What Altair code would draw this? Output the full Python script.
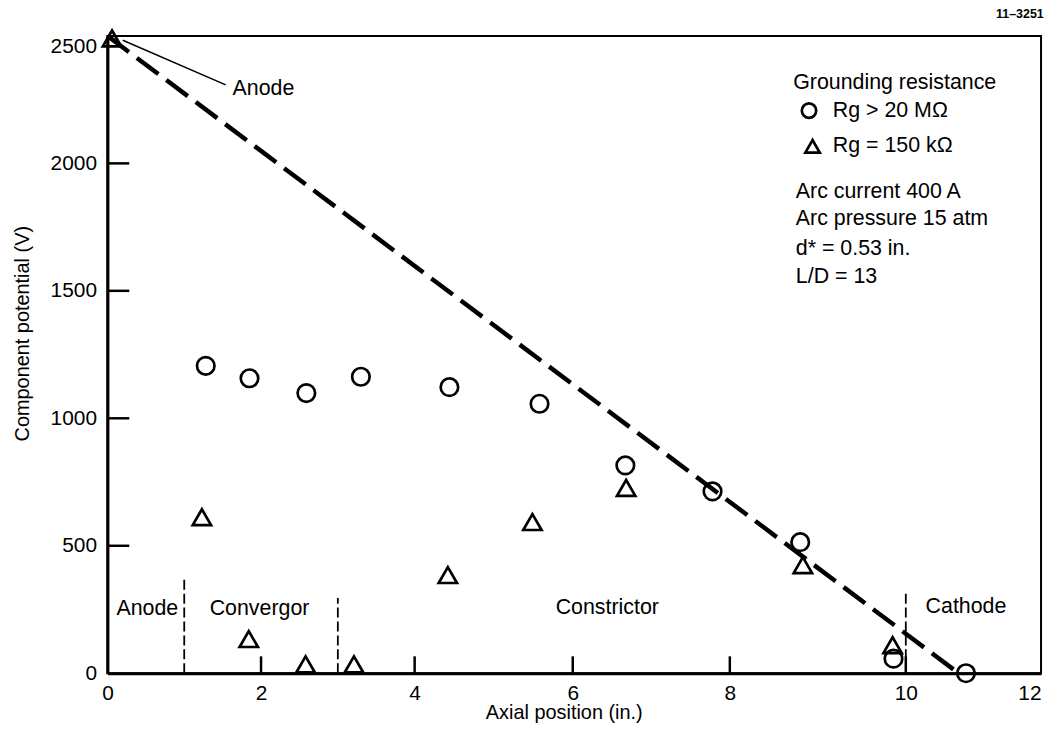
import altair as alt
import pandas as pd

# ---- data ----
# Rg > 20 MOhm (open circles)
circle_x = [1.28, 1.85, 2.59, 3.30, 4.44, 5.58, 6.67, 7.78, 8.80, 9.86, 10.89]
circle_v = [1206, 1157, 1099, 1163, 1122, 1057, 815, 713, 514, 57, 0]
# Rg = 150 kOhm (open triangles)
tri_x = [0.06, 1.23, 1.84, 2.58, 3.21, 4.42, 5.49, 6.68, 8.83, 9.85]
tri_v = [2490, 612, 134, 35, 35, 385, 593, 727, 424, 110]

# dashed reference line (anode -> cathode)
line_x = [0, 10.78]
line_v = [2500, 0]

# section dividers
divider_x = [1, 3, 10]
divider_top = [373, 295, 322]

region_labels = ["Anode", "Convergor", "Constrictor", "Cathode"]
region_x = [0.52, 1.98, 6.44, 10.89]
region_v = [250, 250, 256, 260]

x_ticks = [0, 2, 4, 6, 8, 10, 12]
y_ticks = [0, 500, 1000, 1500, 2000, 2500]
x_inner_ticks = [2, 4, 6, 8, 10]
y_inner_ticks = [500, 1000, 1500, 2000]

legend_title = "Grounding resistance"
legend_labels = ["Rg > 20 M\u03a9", "Rg = 150 k\u03a9"]
legend_shapes = ["circle", "triangle-up"]
legend_sym_x = [8.90, 8.94]
legend_text_x = [9.17, 9.17]
legend_v = [2207, 2067]

cond_labels = ["Arc current 400 A", "Arc pressure 15 atm", "d* = 0.53 in.", "L/D = 13"]
cond_v = [1888, 1781, 1664, 1556]

anode_note = "Anode"
anode_note_pos = (1.63, 2292)
anode_leader = [(0.20, 2483), (1.54, 2308)]

fig_id = "11\u20133251"

FONT = "Liberation Sans"
W, H = 939, 641

xscale = alt.Scale(domain=x_ticks, range=[0, 154.5, 309, 468, 626, 803, 939])
yscale = alt.Scale(domain=[0, 2500], nice=False)

xaxis = alt.Axis(
    values=x_ticks, ticks=False, tickSize=0, grid=False, domain=True,
    domainWidth=3, domainColor="black", labelFontSize=21, labelFont=FONT,
    labelColor="black", labelPadding=9, format="d",
    labelAlign={"condition": {"test": "datum.value == 12", "value": "right"}, "value": "center"},
    title="Axial position (in.)", titleFont=FONT, titleFontSize=20,
    titleFontWeight="normal", titleColor="black", titleX=459, titleY=46,
    titleBaseline="alphabetic", titleAlign="center",
)
yaxis = alt.Axis(
    values=y_ticks, ticks=False, tickSize=0, grid=False, domain=True,
    domainWidth=3, domainColor="black", labelFontSize=21, labelFont=FONT,
    labelColor="black", labelPadding=11, format="d",
    labelBaseline={"condition": {"test": "datum.value == 2500", "value": "top"}, "value": "middle"},
    title="Component potential (V)", titleFont=FONT, titleFontSize=20,
    titleFontWeight="normal", titleColor="black", titleX=-85, titleY=299,
    titleAngle=270, titleAlign="center", titleBaseline="middle",
)

X = alt.X("x:Q", scale=xscale, axis=xaxis)
Y = alt.Y("v:Q", scale=yscale, axis=yaxis)

circles = pd.DataFrame({"x": circle_x, "v": circle_v})
tris = pd.DataFrame({"x": tri_x, "v": tri_v})
line_df = pd.DataFrame({"x": line_x, "v": line_v})
div_df = pd.DataFrame({"x": divider_x, "v": [0] * len(divider_x), "v2": divider_top})
reg_df = pd.DataFrame({"x": region_x, "v": region_v, "t": region_labels})
xt_df = pd.DataFrame({"x": x_inner_ticks})
yt_df = pd.DataFrame({"v": y_inner_ticks})
leg_sym = pd.DataFrame({"x": legend_sym_x, "v": legend_v, "s": legend_shapes})
leg_txt = pd.DataFrame({"x": legend_text_x, "v": legend_v, "t": legend_labels})
leg_head = pd.DataFrame({"x": [8.72], "v": [2314], "t": [legend_title]})
cond_df = pd.DataFrame({"x": [8.75] * len(cond_labels), "v": cond_v, "t": cond_labels})
note_df = pd.DataFrame({"x": [anode_note_pos[0]], "v": [anode_note_pos[1]], "t": [anode_note]})
leader_df = pd.DataFrame({"x": [anode_leader[0][0]], "v": [anode_leader[0][1]],
                          "x2": [anode_leader[1][0]], "v2": [anode_leader[1][1]]})
id_df = pd.DataFrame({"x": [12.04], "v": [2585], "t": [fig_id]})

base_text = dict(font=FONT, fontSize=21.5, color="black", baseline="middle")

layers = [
    alt.Chart(xt_df).mark_rule(color="black", strokeWidth=2.5).encode(
        x=X, y=alt.value(H), y2=alt.value(H - 17)),
    alt.Chart(yt_df).mark_rule(color="black", strokeWidth=2.5).encode(
        y=Y, x=alt.value(0), x2=alt.value(22)),
    alt.Chart(div_df).mark_rule(color="black", strokeWidth=1.8, strokeDash=[10, 4]).encode(
        x=X, y=Y, y2="v2:Q"),
    alt.Chart(line_df).mark_line(color="black", strokeWidth=4.5, strokeDash=[27, 10],
                                 strokeCap="butt").encode(x=X, y=Y),
    alt.Chart(leader_df).mark_rule(color="black", strokeWidth=1.5).encode(
        x=X, y=Y, x2="x2:Q", y2="v2:Q"),
    alt.Chart(circles).mark_point(shape="circle", size=310, filled=False, color="black",
                                  strokeWidth=2.7, opacity=1).encode(x=X, y=Y),
    alt.Chart(tris).mark_point(shape="triangle-up", size=340, filled=False, color="black",
                               strokeWidth=2.7, opacity=1).encode(x=X, y=Y),
    alt.Chart(reg_df).mark_text(align="center", **base_text).encode(x=X, y=Y, text="t:N"),
    alt.Chart(note_df).mark_text(align="left", **base_text).encode(x=X, y=Y, text="t:N"),
    alt.Chart(leg_head).mark_text(align="left", **base_text).encode(x=X, y=Y, text="t:N"),
    alt.Chart(leg_sym).mark_point(filled=False, color="black", strokeWidth=2.7, opacity=1,
                                  size=210).encode(
        x=X, y=Y, shape=alt.Shape("s:N", scale=None, legend=None)),
    alt.Chart(leg_txt).mark_text(align="left", **base_text).encode(x=X, y=Y, text="t:N"),
    alt.Chart(cond_df).mark_text(align="left", **base_text).encode(x=X, y=Y, text="t:N"),
    alt.Chart(id_df).mark_text(align="right", font=FONT, fontSize=12.5, fontWeight="bold",
                               color="black", baseline="middle").encode(x=X, y=Y, text="t:N"),
]

chart = alt.layer(*layers).properties(
    width=W, height=H,
    autosize=alt.AutoSizeParams(type="none"),
    padding={"left": 100, "top": 26, "right": 5, "bottom": 50},
    background="white",
).configure_view(stroke="black", strokeWidth=2)

chart.save("out.html", embed_options={"renderer": "svg", "actions": False})
